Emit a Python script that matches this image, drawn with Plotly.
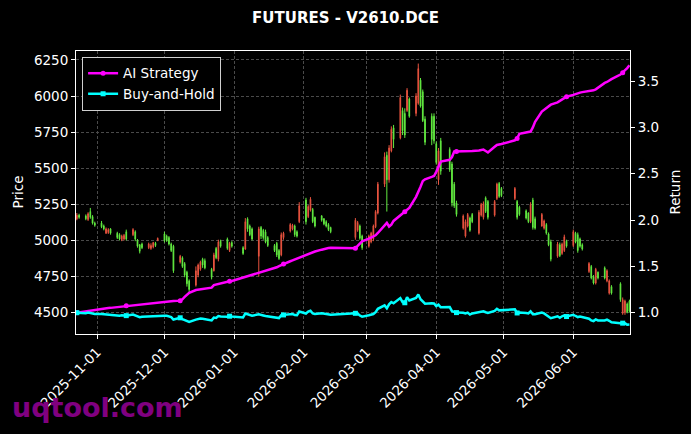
import pandas as pd
import plotly.graph_objects as go

# ---------------- data ----------------
holidays = ["2026-01-01", "2026-01-02", "2026-02-16", "2026-02-17", "2026-02-18",
            "2026-02-19", "2026-02-20", "2026-02-23", "2026-04-06", "2026-05-01",
            "2026-05-04", "2026-05-05", "2026-06-19"]
dates = [d for d in pd.bdate_range("2025-10-23", "2026-06-26")
         if d.strftime("%Y-%m-%d") not in holidays]

# (open, close, high, low) per trading day
ohlc_rows = [
    (5150, 5175, 5190, 5140), (5175, 5160, 5185, 5150),
    (5170, 5150, 5180, 5140), (5145, 5185, 5195, 5135), (5200, 5160, 5225, 5150), (5165, 5120, 5175, 5110), (5120, 5105, 5130, 5095),
    (5120, 5095, 5135, 5085), (5100, 5080, 5110, 5070), (5050, 5080, 5090, 5045), (5055, 5075, 5085, 5045), (5080, 5050, 5085, 5040),
    (5050, 5020, 5060, 5010), (5040, 5010, 5050, 5000), (5005, 5030, 5040, 4995), (5010, 5035, 5045, 5000), (5060, 5010, 5075, 5000),
    (5040, 5075, 5085, 5030), (5060, 5010, 5070, 4995), (5000, 4960, 5010, 4950), (4970, 4925, 4975, 4910), (4975, 4950, 4985, 4940),
    (4950, 4975, 4985, 4940), (4945, 4965, 4980, 4935), (4955, 4985, 4990, 4945), (4980, 4965, 4990, 4955), (5000, 5015, 5020, 4995),
    (5045, 5000, 5060, 4985), (5030, 5000, 5040, 4990), (5020, 4975, 5030, 4965), (4975, 4930, 4985, 4920), (4960, 4790, 4970, 4775),
    (4850, 4890, 4900, 4840), (4880, 4820, 4890, 4810), (4840, 4760, 4850, 4745), (4780, 4700, 4790, 4680), (4720, 4660, 4730, 4640),
    (4690, 4790, 4820, 4680), (4760, 4830, 4840, 4745), (4800, 4850, 4860, 4790), (4870, 4830, 4880, 4810), (4860, 4810, 4875, 4800),
    (4800, 4745, 4810, 4730), (4790, 4900, 4915, 4785), (4945, 4880, 4955, 4870), (4870, 4990, 5005, 4855), (4995, 4960, 5005, 4950),
    (5010, 4945, 5020, 4935), (4930, 4980, 4990, 4920), (4985, 4960, 4995, 4950),
    (4950, 4910, 4960, 4900), (4940, 5130, 5155, 4935), (5150, 5080, 5160, 5060), (5100, 5040, 5110, 5030), (5080, 5010, 5090, 5000),
    (4890, 5080, 5095, 4750), (5090, 5030, 5100, 5010), (5070, 5020, 5080, 5005), (5060, 4990, 5075, 4980), (5020, 4965, 5030, 4955),
    (4965, 4930, 4975, 4920), (4980, 4900, 4990, 4885), (4930, 4875, 4940, 4865), (4900, 5040, 5055, 4890), (5020, 5050, 5060, 5005),
    (5065, 5110, 5120, 5055), (5080, 5105, 5115, 5070), (5100, 5040, 5110, 5025), (5060, 5030, 5070, 5020), (5130, 5240, 5265, 5120),
    (5280, 5130, 5295, 5110), (5165, 5235, 5245, 5155), (5210, 5285, 5300, 5200), (5215, 5130, 5225, 5120), (5160, 5100, 5165, 5090),
    (5170, 5140, 5175, 5130), (5150, 5115, 5155, 5105), (5130, 5100, 5140, 5090), (5110, 5075, 5120, 5065), (5090, 5060, 5095, 5050),
    (5020, 5140, 5155, 5005), (5070, 5125, 5135, 5060), (5100, 5015, 5110, 5005), (5030, 4950, 5040, 4935),
    (4960, 5030, 5040, 4950), (4990, 5050, 5060, 4980), (5010, 5100, 5110, 4995), (5095, 5200, 5210, 5085), (5190, 5390, 5405, 5180),
    (5390, 5580, 5610, 5370), (5590, 5420, 5615, 5200), (5420, 5640, 5660, 5400), (5620, 5770, 5790, 5610), (5780, 5700, 5800, 5640),
    (5710, 5990, 6010, 5700), (5900, 5760, 5920, 5730), (5880, 5730, 5915, 5710), (5900, 6040, 6055, 5890), (5980, 5860, 5990, 5850),
    (5880, 6000, 6020, 5860), (5950, 6190, 6225, 5940), (6110, 5930, 6125, 5920), (6030, 5830, 6045, 5820), (5840, 5680, 5860, 5660),
    (5860, 5700, 5880, 5660), (5860, 5690, 5880, 5670), (5670, 5540, 5685, 5525), (5420, 5620, 5640, 5385), (5690, 5480, 5710, 5455),
    (5630, 5490, 5645, 5475), (5530, 5260, 5545, 5235), (5390, 5240, 5405, 5225), (5260, 5180, 5275, 5165),
    (5085, 5170, 5180, 5075), (5030, 5130, 5145, 5020), (5100, 5180, 5190, 5090), (5155, 5070, 5165, 5060), (5180, 5130, 5190, 5120),
    (5050, 5195, 5210, 5040), (5175, 5250, 5260, 5165), (5160, 5255, 5270, 5145), (5295, 5200, 5305, 5190), (5270, 5160, 5280, 5145),
    (5175, 5270, 5280, 5165), (5290, 5390, 5400, 5280), (5395, 5305, 5405, 5295), (5360, 5310, 5370, 5300),
    (5290, 5360, 5370, 5280), (5270, 5160, 5280, 5145), (5230, 5180, 5240, 5170),
    (5205, 5155, 5215, 5145), (5190, 5130, 5195, 5120), (5130, 5250, 5265, 5120), (5280, 5090, 5295, 5075), (5150, 5085, 5165, 5075),
    (5100, 5180, 5190, 5095), (5085, 5135, 5145, 5075), (5110, 5050, 5120, 5040), (5045, 4970, 5055, 4960), (4990, 4870, 5005, 4855),
    (4890, 4975, 4990, 4880), (4970, 4895, 4985, 4885), (4910, 4975, 4985, 4900), (4930, 5025, 5040, 4920), (4995, 4960, 5005, 4950),
    (4965, 5060, 5075, 4955), (5050, 4990, 5060, 4980), (5040, 4930, 5055, 4915), (5010, 4960, 5020, 4950), (4970, 4940, 4980, 4930),
    (4785, 4840, 4850, 4775), (4820, 4740, 4830, 4730), (4750, 4705, 4760, 4695), (4705, 4800, 4810, 4695), (4780, 4740, 4785, 4730),
    (4810, 4740, 4820, 4730), (4720, 4790, 4800, 4710), (4635, 4720, 4730, 4625), (4680, 4635, 4690, 4625),
    (4700, 4590, 4710, 4575), (4495, 4590, 4605, 4485), (4500, 4580, 4590, 4485), (4560, 4505, 4570, 4495), (4580, 4510, 4590, 4500),
]
opens = [r[0] for r in ohlc_rows]
closes = [r[1] for r in ohlc_rows]
highs = [r[2] for r in ohlc_rows]
lows = [r[3] for r in ohlc_rows]

ai_strategy = [
    1.000, 1.004, 1.012, 1.018, 1.024, 1.030, 1.033,
    1.040, 1.043, 1.046, 1.050, 1.052,
    1.060, 1.064, 1.068, 1.072, 1.076,
    1.082, 1.085, 1.088, 1.091, 1.094,
    1.100, 1.103, 1.106, 1.108, 1.110,
    1.115, 1.117, 1.120, 1.123, 1.126,
    1.130, 1.145, 1.170, 1.195, 1.215,
    1.245, 1.248, 1.250, 1.252, 1.254,
    1.270, 1.298, 1.305, 1.312, 1.318,
    1.335, 1.340, 1.343,
    1.380, 1.388, 1.392, 1.398, 1.405,
    1.430, 1.436, 1.442, 1.450, 1.458,
    1.480, 1.490, 1.503, 1.515, 1.525,
    1.555, 1.565, 1.575, 1.585, 1.598,
    1.625, 1.635, 1.645, 1.652, 1.660,
    1.680, 1.688, 1.694, 1.698, 1.700,
    1.695, 1.720, 1.750, 1.770,
    1.800, 1.810, 1.825, 1.835, 1.860,
    1.940, 1.970, 1.930, 1.950, 1.990,
    2.050, 2.070, 2.090, 2.110, 2.130,
    2.250, 2.300, 2.360, 2.420, 2.440,
    2.465, 2.475, 2.520, 2.570, 2.630,
    2.650, 2.680, 2.740, 2.740,
    2.745, 2.740, 2.742, 2.748, 2.745,
    2.750, 2.755, 2.760, 2.745, 2.730,
    2.790, 2.810, 2.815, 2.820,
    2.860, 2.880, 2.930,
    2.945, 2.950, 2.955, 3.000, 3.060,
    3.170, 3.190, 3.205, 3.220, 3.245,
    3.270, 3.285, 3.300, 3.315, 3.330,
    3.350, 3.360, 3.370, 3.375, 3.380,
    3.390, 3.395, 3.400, 3.410, 3.430,
    3.480, 3.490, 3.505, 3.520,
    3.570, 3.590, 3.610, 3.640, 3.670,
]
# buy-and-hold return: close relative to the first close
buy_hold = [c / closes[0] for c in closes]

MARK_EVERY = 16

RED = "#e8533f"
GREEN = "#62ea40"
MAGENTA = "#ff00ff"
CYAN = "#00ffff"

fig = go.Figure()
fig.add_trace(go.Candlestick(
    x=dates, open=opens, high=highs, low=lows, close=closes,
    increasing=dict(line=dict(color=RED, width=1), fillcolor=RED),
    decreasing=dict(line=dict(color=GREEN, width=1), fillcolor=GREEN),
    whiskerwidth=0, showlegend=False, hoverinfo="skip"))

fig.add_trace(go.Scatter(x=dates, y=ai_strategy, mode="lines", yaxis="y2",
                         line=dict(color=MAGENTA, width=2.5), showlegend=False))
fig.add_trace(go.Scatter(x=dates[::MARK_EVERY], y=ai_strategy[::MARK_EVERY], mode="markers", yaxis="y2",
                         marker=dict(color=MAGENTA, size=5, symbol="circle"), showlegend=False))
fig.add_trace(go.Scatter(x=dates, y=buy_hold, mode="lines", yaxis="y2",
                         line=dict(color=CYAN, width=2.5), showlegend=False))
fig.add_trace(go.Scatter(x=dates[::MARK_EVERY], y=buy_hold[::MARK_EVERY], mode="markers", yaxis="y2",
                         marker=dict(color=CYAN, size=5, symbol="square"), showlegend=False))
# legend entries
fig.add_trace(go.Scatter(x=[None], y=[None], mode="lines+markers", name="AI Strategy", yaxis="y2",
                         line=dict(color=MAGENTA, width=2.5), marker=dict(color=MAGENTA, size=5, symbol="circle")))
fig.add_trace(go.Scatter(x=[None], y=[None], mode="lines+markers", name="Buy-and-Hold", yaxis="y2",
                         line=dict(color=CYAN, width=2.5), marker=dict(color=CYAN, size=5, symbol="square")))

grid = dict(showgrid=True, gridcolor="#4a4a4a", gridwidth=0.8, griddash="3px,2px")
axis_common = dict(ticks="outside", ticklen=4, tickcolor="white", tickwidth=1,
                   showline=True, linecolor="white", linewidth=1, zeroline=False,
                   tickfont=dict(size=13.5, color="white"))

fig.update_layout(
    width=691, height=434,
    paper_bgcolor="black", plot_bgcolor="black",
    margin=dict(l=76, r=61, t=51, b=100),
    font=dict(family="DejaVu Sans", color="white", size=13.5),
    boxgap=0.55,
    title=dict(text="<b>FUTURES - V2610.DCE</b>", x=0.5, xanchor="center",
               yref="container", y=1 - 18 / 434, yanchor="middle",
               font=dict(size=15, color="white", family="DejaVu Sans")),
    xaxis=dict(type="date", range=["2025-10-22 15:00", "2026-06-26 06:00"],
               rangeslider=dict(visible=False), tickformat="%Y-%m-%d",
               dtick="M1", tick0="2025-11-01", tickangle=-45, mirror=True,
               **grid, **axis_common),
    yaxis=dict(range=[4352, 6312], dtick=250, tick0=4500, mirror=True,
               **grid, **axis_common),
    yaxis2=dict(overlaying="y", side="right", range=[0.770, 3.824], dtick=0.5, tick0=1.0,
                tickformat=".1f", showgrid=False, **axis_common),
    legend=dict(x=0.011, y=0.979, xanchor="left", yanchor="top", bgcolor="black",
                bordercolor="#d0d0d0", borderwidth=1, font=dict(size=13.5, color="white")),
    showlegend=True,
    annotations=[
        dict(text="Price", xref="paper", yref="paper", x=(17 - 76) / 554, y=0.5,
             textangle=-90, showarrow=False, xanchor="center", yanchor="middle",
             font=dict(size=13.5, color="white")),
        dict(text="Return", xref="paper", yref="paper", x=(674 - 76) / 554, y=0.5,
             textangle=-90, showarrow=False, xanchor="center", yanchor="middle",
             font=dict(size=13.5, color="white")),
        dict(text="<b>uqtool.com</b>", xref="paper", yref="paper", x=(10 - 76) / 554,
             y=(334 - 407) / 283, xanchor="left", yanchor="middle", showarrow=False,
             font=dict(size=27, color="#800080", family="DejaVu Sans")),
    ],
)

fig.write_html("out.html")
